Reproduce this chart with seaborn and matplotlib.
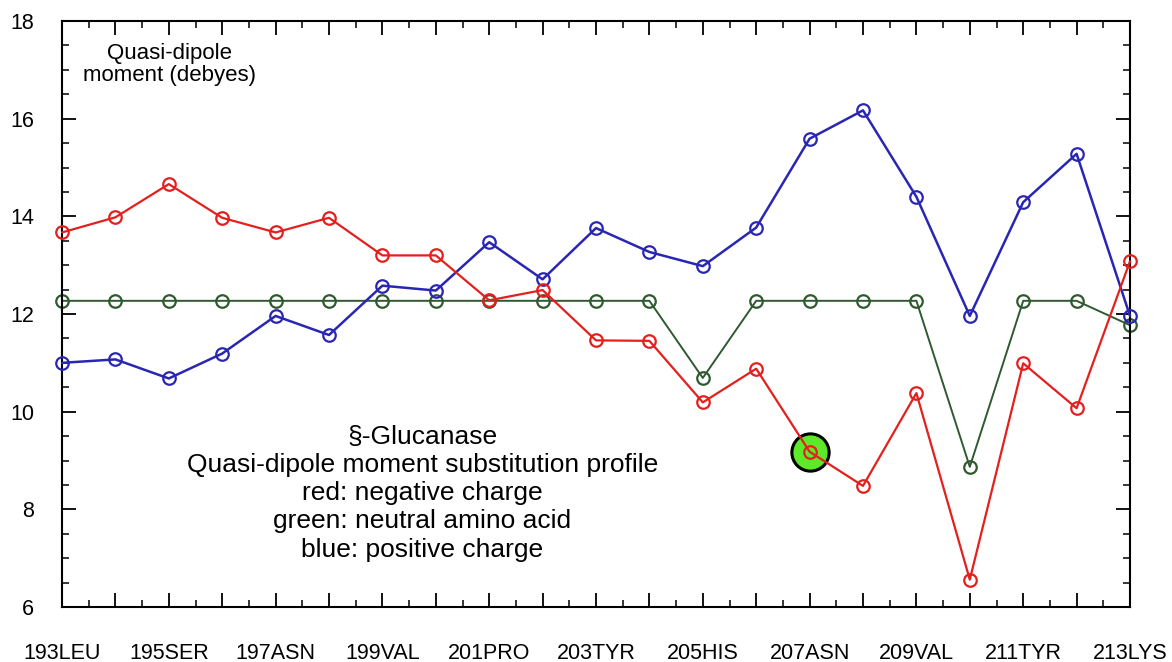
import matplotlib
matplotlib.use("Agg")
import matplotlib.pyplot as plt
import seaborn as sns
import pandas as pd
from matplotlib.ticker import MultipleLocator

# residue positions along the sequence
residues = [193, 194, 195, 196, 197, 198, 199, 200, 201, 202, 203,
            204, 205, 206, 207, 208, 209, 210, 211, 212, 213]

# quasi-dipole moment (debyes) after substitution
red_neg = [13.67, 13.98, 14.66, 13.97, 13.67, 13.97, 13.20, 13.20, 12.28, 12.49, 11.46,
           11.45, 10.19, 10.88, 9.18, 8.48, 10.38, 6.56, 10.99, 10.07, 13.08]
green_neu = [12.27, 12.27, 12.27, 12.27, 12.27, 12.27, 12.27, 12.27, 12.27, 12.27, 12.27,
             12.27, 10.69, 12.27, 12.27, 12.27, 12.27, 8.87, 12.27, 12.27, 11.77]
blue_pos = [11.00, 11.07, 10.68, 11.19, 11.96, 11.57, 12.58, 12.48, 13.47, 12.71, 13.76,
            13.27, 12.98, 13.77, 15.59, 16.17, 14.40, 11.96, 14.29, 15.28, 11.96]

label_pos = [193, 195, 197, 199, 201, 203, 205, 207, 209, 211, 213]
label_txt = ["193LEU", "195SER", "197ASN", "199VAL", "201PRO", "203TYR",
             "205HIS", "207ASN", "209VAL", "211TYR", "213LYS"]

highlight = 207

df = pd.DataFrame({"pos": residues, "red": red_neg, "green": green_neu, "blue": blue_pos})

sns.set_style("ticks")
plt.rcParams["font.family"] = ["Liberation Sans", "DejaVu Sans"]
plt.rcParams["text.color"] = "black"

fig = plt.figure(figsize=(11.72, 6.62), dpi=100)
ax = fig.add_axes([62 / 1172, 1 - 607 / 662, (1130 - 62) / 1172, (607 - 21) / 662])

# highlighted residue (drawn under the lines)
hi_y = red_neg[residues.index(highlight)]
sns.scatterplot(x=[highlight], y=[hi_y], s=720, color="#5ee82a", edgecolor="black",
                linewidth=2.2, zorder=1, ax=ax, legend=False)

line_kw = dict(marker="o", markersize=9, markerfacecolor="none", markeredgewidth=1.6,
               clip_on=False)
sns.lineplot(data=df, x="pos", y="green", color="#2f5a30", linewidth=1.4,
             markeredgecolor="#2f5a30", zorder=2, ax=ax, **line_kw)
sns.lineplot(data=df, x="pos", y="blue", color="#2a26b4", linewidth=1.8,
             markeredgecolor="#2a26b4", zorder=3, ax=ax, **line_kw)
sns.lineplot(data=df, x="pos", y="red", color="#e3201e", linewidth=1.6,
             markeredgecolor="#e3201e", zorder=4, ax=ax, **line_kw)

ax.set_xlim(193, 213)
ax.set_ylim(6, 18)

# long tick at every residue, label only the odd ones
tick_labels = [label_txt[label_pos.index(r)] if r in label_pos else "" for r in residues]
ax.set_xticks(residues)
ax.set_xticklabels(tick_labels)
ax.xaxis.set_minor_locator(MultipleLocator(0.5))
ax.set_yticks([6, 8, 10, 12, 14, 16, 18])
ax.yaxis.set_minor_locator(MultipleLocator(0.5))
ax.set_xlabel("")
ax.set_ylabel("")

ax.tick_params(which="major", direction="in", length=10, width=1.3, top=True, right=True,
               labelsize=15.5, colors="black")
ax.tick_params(which="minor", direction="in", length=5, width=1.3, top=True, right=True)
ax.tick_params(axis="x", which="major", pad=26)
ax.tick_params(axis="y", which="major", pad=20)
for s in ax.spines.values():
    s.set_visible(True)
    s.set_linewidth(1.5)
    s.set_color("black")

ax.text(195.02, 17.11, "Quasi-dipole\nmoment (debyes)", ha="center", va="center",
        fontsize=16, linespacing=1.1)
ax.text(199.75, 8.33, "§-Glucanase\nQuasi-dipole moment substitution profile\n"
        "red: negative charge\ngreen: neutral amino acid\nblue: positive charge",
        ha="center", va="center", fontsize=19, linespacing=1.22, multialignment="center")

fig.savefig("out.png", dpi=100)
